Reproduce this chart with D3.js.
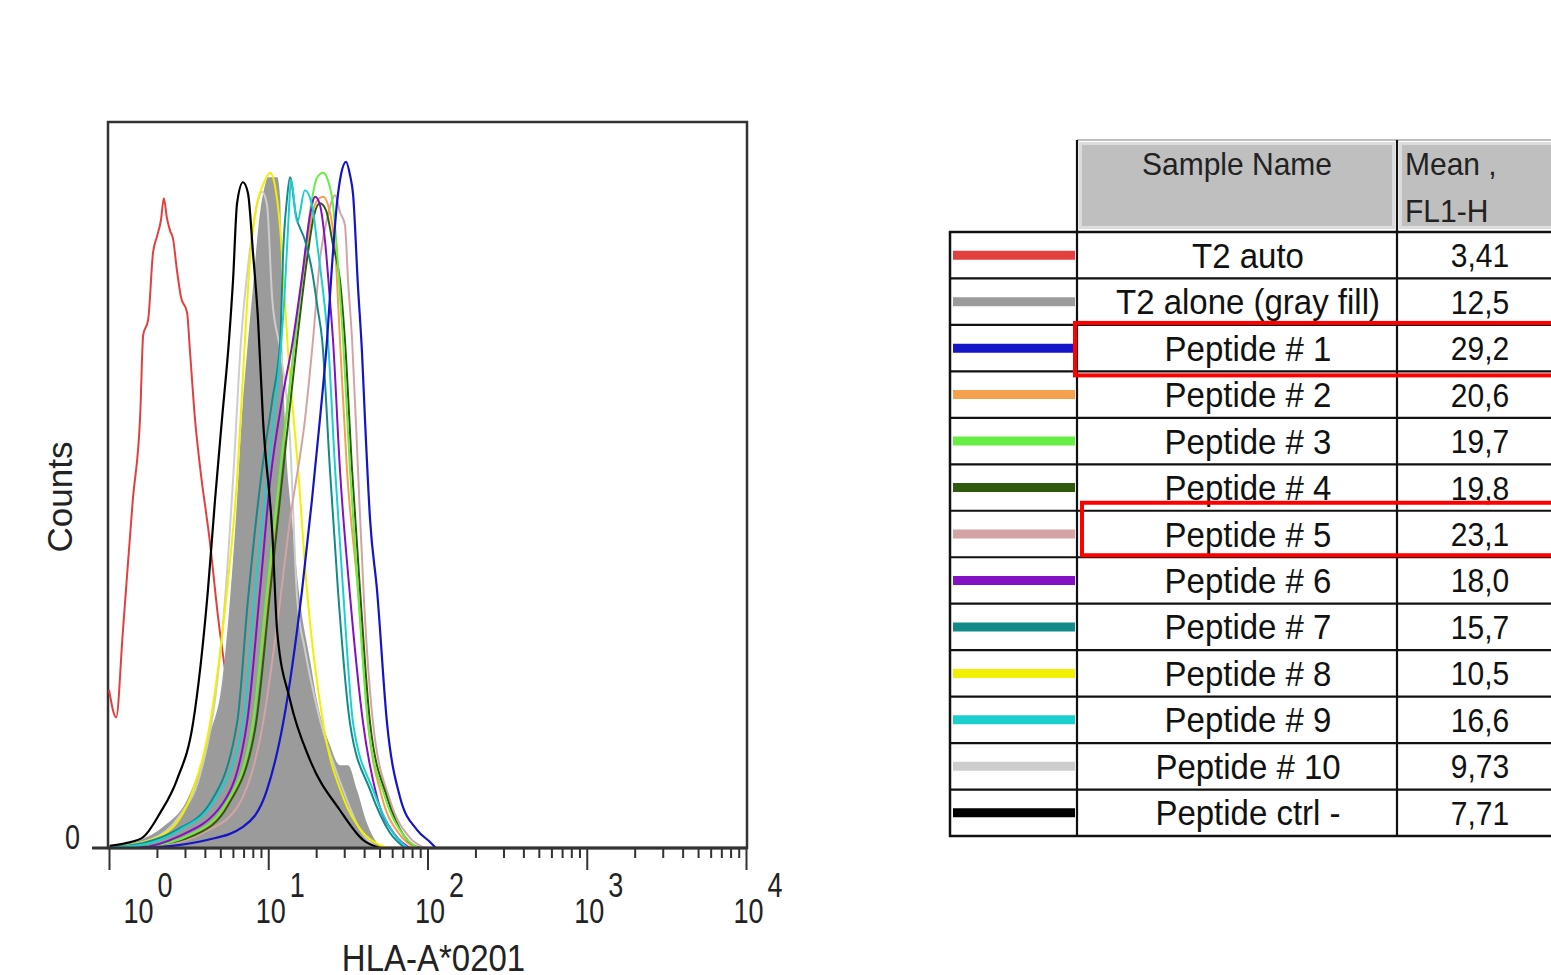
<!DOCTYPE html>
<html>
<head>
<meta charset="utf-8">
<script src="https://cdn.jsdelivr.net/npm/d3@7"></script>
<style>
  html, body { margin: 0; padding: 0; background: #fff; }
  svg { display: block; font-family: "Liberation Sans", Arial, Helvetica, sans-serif; }
</style>
</head>
<body>
<div id="app"></div>
<script>
const t2Auto = [[1.0,21.8],[1.11,18.0],[1.22,29.6],[1.41,47.9],[1.57,59.6],[1.64,70.7],[1.76,72.7],[1.89,82.0],[2.0,84.2],[2.12,86.5],[2.21,89.5],[2.31,86.8],[2.42,85.0],[2.52,84.0],[2.67,79.6],[2.83,75.9],[3.09,73.8],[3.23,68.2],[3.47,59.0],[3.73,52.5],[4.31,42.0],[4.84,31.8],[5.51,22.7],[6.65,12.1],[8.26,4.6],[10.3,1.1],[13.7,0]];
const t2Alone = [[1.01,0.1],[1.57,1.1],[2.18,2.9],[3.09,6.6],[3.73,11.2],[4.31,15.8],[5.12,22.7],[5.75,34.2],[6.37,47.9],[6.94,61.7],[7.35,68.2],[8.02,77.3],[8.88,87.5],[9.54,91.3],[9.96,92.4],[11.4,92.4],[11.9,89.3],[12.2,71.3],[12.7,59.0],[14.1,45.2],[15.8,34.2],[18.3,25.9],[20.2,20.4],[24.4,14.2],[28.2,11.4],[31.7,11.4],[36.1,8.0],[41.7,3.4],[48.2,0.7],[54.1,0]];
const pep1 = [[1.57,0],[2.5,0.3],[4.12,1.1],[6.94,2.9],[9.82,8.0],[12.4,17.2],[16.3,35.5],[18.8,47.9],[21.1,59.0],[23.4,70.0],[25.1,80.0],[27.0,88.8],[28.6,92.7],[30.8,94.5],[32.6,92.7],[34.1,90.0],[36.6,77.3],[38.8,68.2],[40.5,59.0],[43.6,45.2],[48.2,35.5],[55.7,17.2],[67.2,7.0],[85.9,2.5],[104,0.8],[113,0]];
const pep2 = [[1.17,0],[1.81,0.3],[3.23,1.8],[5.2,5.2],[7.68,14.9],[9.96,35.5],[11.9,52.1],[14.7,70.0],[17.0,81.0],[18.8,87.2],[20.5,89.3],[22.1,89.7],[23.7,88.6],[26.3,82.4],[28.2,70.0],[31.2,52.1],[36.6,35.5],[42.3,17.2],[51.8,7.0],[67.2,1.8],[83.5,0]];
const pep3 = [[1.17,0],[1.81,0.3],[3.23,1.8],[5.35,5.9],[7.91,16.3],[9.82,35.5],[11.9,52.1],[14.7,70.0],[17.0,81.7],[18.8,89.3],[20.2,92.3],[22.1,93.0],[23.7,92.0],[25.5,88.6],[27.0,82.4],[29.5,70.0],[32.6,52.1],[36.6,35.5],[42.3,17.2],[54.1,7.0],[72.2,1.5],[87.1,0]];
const pep4 = [[1.26,0],[1.81,0.3],[3.47,1.8],[5.59,5.9],[8.26,16.3],[10.3,35.5],[12.4,52.1],[15.2,70.0],[17.5,81.0],[19.4,87.2],[21.1,88.8],[23.0,87.9],[25.5,83.1],[28.2,78.2],[30.3,70.0],[33.6,52.1],[37.7,35.5],[43.6,17.2],[55.7,7.0],[72.2,1.5],[89.7,0]];
const pep5 = [[1.35,0],[2.09,0.3],[3.89,2.1],[6.37,5.6],[9.27,17.2],[11.4,31.0],[13.7,45.2],[17.0,59.0],[19.1,70.0],[21.1,81.0],[23.7,87.2],[26.3,89.9],[28.2,87.6],[30.3,85.8],[31.7,78.2],[33.6,70.0],[36.6,52.1],[39.9,34.2],[45.5,17.2],[58.1,6.6],[77.6,1.4],[96.4,0]];
const pep6 = [[1.01,0],[1.57,0.1],[2.67,1.5],[5.2,6.2],[7.35,17.2],[8.88,35.5],[10.3,50.7],[12.2,61.7],[14.3,70.0],[16.5,79.6],[18.3,87.2],[19.7,89.7],[21.1,88.6],[22.7,83.7],[24.4,75.5],[25.5,70.0],[28.2,52.1],[32.6,34.8],[39.4,17.2],[48.2,7.0],[62.5,1.8],[77.6,0]];
const pep7 = [[1.01,0.1],[1.64,0.7],[2.67,2.5],[4.31,6.2],[6.37,17.2],[7.46,34.2],[9.14,52.1],[10.6,61.7],[11.9,70.0],[12.4,82.0],[13.1,89.3],[13.7,92.4],[14.9,87.2],[17.0,83.7],[18.8,79.6],[20.5,74.1],[21.8,70.0],[24.4,52.1],[27.4,35.5],[32.6,17.2],[43.6,8.0],[58.1,2.1],[72.2,0]];
const pep8 = [[1.01,0.1],[1.57,0.7],[2.42,2.5],[3.37,8.0],[4.31,17.2],[5.51,35.5],[6.37,50.7],[7.14,70.0],[7.68,81.0],[8.5,88.8],[9.27,91.3],[10.3,93.0],[11.0,91.3],[11.9,85.1],[12.7,75.5],[13.3,68.6],[15.4,52.1],[17.5,35.5],[22.1,17.2],[29.5,7.0],[39.4,2.1],[50.3,0.4],[58.1,0]];
const pep9 = [[1.01,0.1],[1.57,0.4],[2.79,2.5],[4.63,6.6],[6.94,17.2],[8.26,35.5],[9.96,52.1],[11.5,64.5],[12.6,75.5],[13.3,85.1],[13.9,92.0],[15.2,86.2],[17.0,90.6],[18.8,88.6],[20.5,82.4],[22.4,75.5],[23.7,70.0],[26.3,52.1],[29.5,35.5],[34.1,17.2],[45.5,8.0],[60.7,2.1],[75.4,0]];
const pep10 = [[1.01,0.1],[1.81,1.1],[2.79,4.5],[3.73,10.1],[4.63,20.4],[5.35,34.2],[6.01,50.7],[6.75,70.0],[7.68,82.4],[8.5,88.6],[9.14,90.4],[9.82,88.6],[10.6,75.5],[11.9,68.6],[13.7,56.2],[15.2,34.2],[17.0,27.3],[20.2,19.4],[29.5,8.0],[37.7,2.5],[49.2,0]];
const pepCtrl = [[1.01,0.3],[1.3,0.7],[1.64,1.5],[2.09,4.8],[2.67,9.4],[3.37,17.2],[4.18,35.5],[4.63,47.9],[5.12,59.0],[5.67,70.0],[6.01,78.2],[6.37,88.8],[6.94,91.7],[7.46,90.2],[8.02,82.0],[8.63,72.7],[9.27,59.0],[10.6,43.4],[11.4,29.6],[13.7,20.4],[18.3,12.1],[28.2,5.2],[39.4,1.1],[50.3,0]];

const sampleNames = ['T2 auto', 'T2 alone (gray fill)', 'Peptide # 1', 'Peptide # 2', 'Peptide # 3', 'Peptide # 4',
  'Peptide # 5', 'Peptide # 6', 'Peptide # 7', 'Peptide # 8', 'Peptide # 9', 'Peptide # 10', 'Peptide ctrl -'];
const sampleMeans = ['3,41', '12,5', '29,2', '20,6', '19,7', '19,8', '23,1', '18,0', '15,7', '10,5', '16,6', '9,73', '7,71'];
const sampleCurves = [t2Auto, t2Alone, pep1, pep2, pep3, pep4, pep5, pep6, pep7, pep8, pep9, pep10, pepCtrl];
const highlighted = ['Peptide # 1', 'Peptide # 5'];
const decades = [1, 10, 100, 1000, 10000];
const countTicks = [0];

const colors = ['#e2403f', '#9b9b9b', '#1414c8', '#f5a04c', '#66ee44', '#2f5a0e', '#d4a4a4',
  '#8410c4', '#128a8a', '#f0f000', '#1ccfcf', '#cdcdcd', '#000000'];
// which overlay sits on top of which (red under the gray fill, control on top)
const drawOrder = [0, 1, 11, 9, 6, 3, 5, 4, 7, 8, 10, 2, 12];

const W = 1551, H = 975;
const plot = { left: 109, right: 746, top: 122, bottom: 848 };

const svg = d3.select('#app').append('svg')
  .attr('width', W)
  .attr('height', H);

const xScale = d3.scaleLog().domain([1, 10000]).range([plot.left, plot.right]);
const yScale = d3.scaleLinear().domain([0, 100]).range([plot.bottom, plot.top]);

// the source image is a bit stretched vertically, text included
const stretched = (x, y, s) => `translate(${x},${y}) scale(1,${s})`;

// frame
svg.append('rect')
  .attr('x', plot.left - 1).attr('y', plot.top)
  .attr('width', plot.right - plot.left + 2).attr('height', plot.bottom - plot.top)
  .attr('fill', 'none').attr('stroke', '#333').attr('stroke-width', 2.5);

const line = d3.line()
  .x(d => xScale(d[0]))
  .y(d => yScale(d[1]))
  .curve(d3.curveMonotoneX);

const area = d3.area()
  .x(d => xScale(d[0]))
  .y0(yScale(0))
  .y1(d => yScale(d[1]))
  .curve(d3.curveMonotoneX);

const curves = svg.append('g');
drawOrder.forEach(i => {
  if (sampleNames[i].includes('gray fill')) {
    curves.append('path')
      .attr('d', area(sampleCurves[i]))
      .attr('fill', colors[i]);
  } else {
    curves.append('path')
      .attr('d', line(sampleCurves[i]))
      .attr('fill', 'none')
      .attr('stroke', colors[i])
      .attr('stroke-width', i === 12 || i === 2 ? 2.2 : 2)
      .attr('stroke-linejoin', 'round');
  }
});

// x axis: minor and major log ticks
const minorTicks = decades.slice(0, -1).flatMap(d => d3.range(2, 10).map(k => k * d));

const minorAxis = svg.append('g')
  .attr('transform', `translate(0,${plot.bottom})`)
  .call(d3.axisBottom(xScale).tickValues(minorTicks).tickSize(10).tickSizeOuter(0).tickFormat(''));
const majorAxis = svg.append('g')
  .attr('transform', `translate(0,${plot.bottom})`)
  .call(d3.axisBottom(xScale).tickValues(decades).tickSize(22).tickSizeOuter(0).tickFormat(''));

[minorAxis, majorAxis].forEach(g => {
  g.select('.domain').remove();
  g.selectAll('.tick line').attr('stroke', '#333').attr('stroke-width', 2);
});

majorAxis.selectAll('.tick text').remove();
majorAxis.selectAll('.tick').each(function(d, i) {
  const t = d3.select(this).append('text')
    .attr('transform', stretched(i === 0 ? 14 : -13, 75, 1.3))
    .attr('fill', '#222')
    .attr('font-size', 27)
    .attr('text-anchor', 'start');
  t.append('tspan').text('10');
  t.append('tspan').attr('dx', 4).attr('dy', -20).text(Math.round(Math.log10(d)));
});

svg.append('line')
  .attr('x1', plot.left - 17).attr('x2', plot.right + 1)
  .attr('y1', plot.bottom).attr('y2', plot.bottom)
  .attr('stroke', '#333').attr('stroke-width', 3);

// y axis: only the zero label
const yAxis = svg.append('g')
  .attr('transform', `translate(${plot.left},0)`)
  .call(d3.axisLeft(yScale).tickValues(countTicks).tickSize(0).tickFormat(''));
yAxis.select('.domain').remove();
yAxis.selectAll('.tick text').remove();
yAxis.selectAll('.tick').append('text')
  .attr('transform', stretched(-29, 0, 1.3))
  .attr('text-anchor', 'end')
  .attr('font-size', 27)
  .attr('fill', '#222')
  .text(d => d);

svg.append('text')
  .attr('transform', `translate(72,${(plot.top + plot.bottom) / 2 + 12}) rotate(-90)`)
  .attr('text-anchor', 'middle')
  .attr('font-size', 35)
  .attr('fill', '#222')
  .text('Counts');

svg.append('text')
  .attr('transform', stretched((plot.left + plot.right) / 2 + 6, 971, 1.1))
  .attr('text-anchor', 'middle')
  .attr('font-size', 33)
  .attr('fill', '#222')
  .text('HLA-A*0201');

// legend table
const table = { left: 950, swatchRight: 1077, nameRight: 1397, right: 1575, headTop: 140, top: 232, bottom: 836 };
const rowScale = d3.scaleBand().domain(sampleNames).range([table.top, table.bottom]);
const rowH = rowScale.bandwidth();
const tg = svg.append('g');

// header cells
tg.append('line')
  .attr('x1', table.swatchRight).attr('x2', table.right)
  .attr('y1', table.headTop).attr('y2', table.headTop)
  .attr('stroke', '#aaa').attr('stroke-width', 1.5);
[[table.swatchRight, table.nameRight], [table.nameRight, table.right]].forEach(([x0, x1]) => {
  tg.append('rect')
    .attr('x', x0 + 3.5).attr('y', table.headTop + 3.5)
    .attr('width', x1 - x0 - 7).attr('height', table.top - table.headTop - 8)
    .attr('fill', '#bfbfbf').attr('stroke', '#dcdcdc').attr('stroke-width', 3);
});
tg.append('text')
  .attr('transform', stretched((table.swatchRight + table.nameRight) / 2, 175, 1.05))
  .attr('text-anchor', 'middle')
  .attr('font-size', 30)
  .attr('fill', '#222')
  .text('Sample Name');
tg.append('text').attr('transform', stretched(table.nameRight + 8, 175, 1.05))
  .attr('font-size', 30).attr('fill', '#222').text('Mean ,');
tg.append('text').attr('transform', stretched(table.nameRight + 8, 222, 1.05))
  .attr('font-size', 30).attr('fill', '#222').text('FL1-H');

// body grid
tg.append('rect')
  .attr('x', table.left).attr('y', table.top)
  .attr('width', table.right - table.left).attr('height', table.bottom - table.top)
  .attr('fill', 'none').attr('stroke', '#111').attr('stroke-width', 2.5);
tg.selectAll('line.row')
  .data(sampleNames.slice(1))
  .enter().append('line')
  .attr('class', 'row')
  .attr('x1', table.left).attr('x2', table.right)
  .attr('y1', d => rowScale(d)).attr('y2', d => rowScale(d))
  .attr('stroke', '#111').attr('stroke-width', 2.2);
[table.swatchRight, table.nameRight].forEach(x => {
  tg.append('line')
    .attr('x1', x).attr('x2', x)
    .attr('y1', table.headTop).attr('y2', table.bottom)
    .attr('stroke', '#111').attr('stroke-width', 2.2);
});

const rows = tg.selectAll('g.entry')
  .data(sampleNames)
  .enter().append('g')
  .attr('class', 'entry')
  .attr('transform', d => `translate(0,${rowScale(d) + rowH / 2})`);

rows.append('line')
  .attr('x1', table.left + 3).attr('x2', table.swatchRight - 2)
  .attr('stroke', (d, i) => colors[i])
  .attr('stroke-width', 9);

rows.append('text')
  .attr('transform', stretched((table.swatchRight + table.nameRight) / 2 + 11, 12.5, 1.07))
  .attr('text-anchor', 'middle')
  .attr('font-size', 33)
  .attr('fill', '#111')
  .text(d => d);

rows.append('text')
  .attr('transform', stretched(table.nameRight + 83, 12, 1.1))
  .attr('text-anchor', 'middle')
  .attr('font-size', 30)
  .attr('fill', '#111')
  .text((d, i) => sampleMeans[i]);

// red boxes drawn by hand around the best binders, slightly off the grid
const boxNudge = [{ dx: -2, top: -2, bottom: 4 }, { dx: 5, top: -8, bottom: -2 }];
highlighted.forEach((name, k) => {
  const n = boxNudge[k];
  tg.append('rect')
    .attr('x', table.swatchRight + n.dx)
    .attr('y', rowScale(name) + n.top)
    .attr('width', table.right - table.swatchRight)
    .attr('height', rowH - n.top + n.bottom)
    .attr('fill', 'none')
    .attr('stroke', '#ff0000')
    .attr('stroke-width', 4);
});
</script>
</body>
</html>
